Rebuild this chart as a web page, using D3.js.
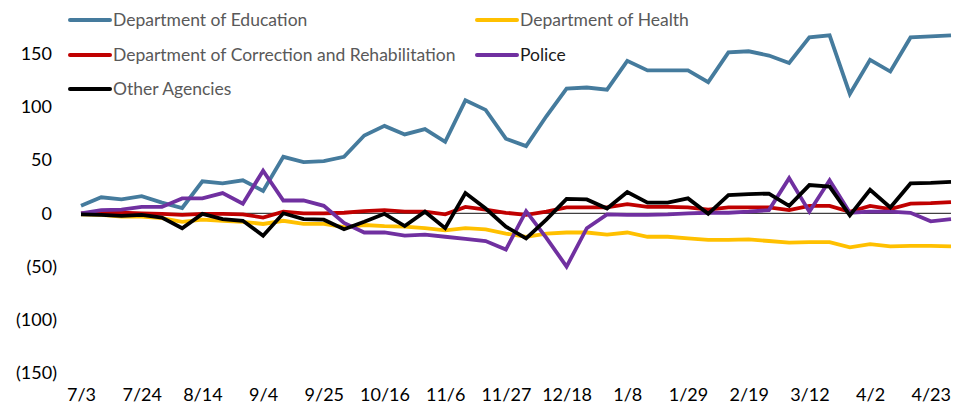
<!DOCTYPE html>
<html>
<head>
<meta charset="utf-8">
<script src="https://cdn.jsdelivr.net/npm/d3@7"></script>
<style>
  body { margin: 0; background: #fff; }
  #chart { width: 953px; height: 411px; }
  text { font-family: Lato, "Open Sans", sans-serif; }
</style>
</head>
<body>
<div id="chart"></div>
<script>
// weekly categories
const weeks = ["7/3","7/10","7/17","7/24","7/31","8/7","8/14","8/21","8/28","9/4","9/11","9/18","9/25",
  "10/2","10/9","10/16","10/23","10/30","11/6","11/13","11/20","11/27","12/4","12/11","12/18","12/25",
  "1/1","1/8","1/15","1/22","1/29","2/5","2/12","2/19","2/26","3/5","3/12","3/19","3/26","4/2","4/9",
  "4/16","4/23","4/30"];
const tickLabels = ["7/3","7/24","8/14","9/4","9/25","10/16","11/6","11/27","12/18","1/8","1/29","2/19","3/12","4/2","4/23"];
const yTicks = [-150, -100, -50, 0, 50, 100, 150];

const education = [7,15,13,16,10,5,30,28,31,21,53,48,49,53,73,82,74,79,67,106,97,70,63,91,117,118,116,143,134,134,
  134,123,151,152,148,141,165,167,112,144,133,165,166,167];
const health = [-1,-1.5,-3,-3,-4.5,-8,-6,-7,-8,-10,-7,-10,-10,-13,-11,-12,-12.5,-14,-16,-14,-15,-19,-22,-19,-18,-18,
  -20,-18,-22,-22,-23.5,-25,-25,-24.5,-26,-27.5,-27,-27,-32,-29,-31,-30.5,-30.5,-31];
const correction = [0,0.5,0.5,0,-0.5,-1.5,-0.5,-0.5,-1,-4,1.5,0,0,0.5,2,3,1.5,1.5,-1,6,3.5,0.5,-1.5,1.5,5.5,5.5,
  5.5,8.5,6,6,5.5,3.5,5.5,5.5,5.5,3,7,7,1.5,7,4,9,9.5,10.5];
const police = [0,3,3.5,6,6,14,14,19,9,40,12,12,7,-9,-18,-18,-21,-20,-22,-24,-26,-34,2,-23,-50,-14,-1,-1.5,-1.5,-1,
  0,0.5,0.5,1.5,3,33,1.5,31,0.5,1.5,1.5,0.5,-7.5,-5.5];
const other = [-1,-1.5,-2.5,-1.5,-4,-14,-0.5,-5.5,-7,-21,0,-5.5,-6,-15,-8,-0.5,-12,1.5,-14,19,4.5,-12.5,-23.5,-6,
  13.5,13,4.5,20,10,10,14,-0.5,17,18,18.5,7,26.5,25,-2,22,5.5,28,28.5,29.5];

const series = [
  { name: "Department of Education", values: education, color: "#457b9d" },
  { name: "Department of Health", values: health, color: "#ffc000" },
  { name: "Department of Correction and Rehabilitation", values: correction, color: "#c00000" },
  { name: "Police", values: police, color: "#7030a0" },
  { name: "Other Agencies", values: other, color: "#000000" }
];

const width = 953, height = 411;
const svg = d3.select("#chart").append("svg")
  .attr("width", width)
  .attr("height", height);

const x = d3.scalePoint()
  .domain(weeks)
  .range([81, 951]);

const y = d3.scaleLinear()
  .domain([-150, 150])
  .range([373.2, 53.4]);

const fmt = d => d < 0 ? `(${-d})` : `${d}`;

// y axis labels (accounting style, parentheses hang right)
const yAxis = svg.append("g")
  .attr("transform", "translate(52,0)")
  .call(d3.axisLeft(y).tickValues(yTicks).tickSize(0).tickPadding(0).tickFormat(fmt));
yAxis.select(".domain").remove();
yAxis.selectAll("text")
  .attr("x", d => d < 0 ? 5 : 0)
  .attr("fill", "#000")
  .style("font-size", "18px");

// x axis labels
const xAxis = svg.append("g")
  .attr("transform", "translate(0,388)")
  .call(d3.axisBottom(x).tickValues(tickLabels).tickSize(0).tickPadding(0));
xAxis.select(".domain").remove();
xAxis.selectAll("text")
  .attr("fill", "#000")
  .style("font-size", "18px");

// zero line
svg.append("line")
  .attr("x1", x(weeks[0])).attr("x2", x(weeks[weeks.length - 1]))
  .attr("y1", y(0)).attr("y2", y(0))
  .attr("stroke", "#404040")
  .attr("stroke-width", 1.2);

const line = d3.line()
  .x((d, i) => x(weeks[i]))
  .y(d => y(d));

series.forEach(s => {
  svg.append("path")
    .datum(s.values)
    .attr("fill", "none")
    .attr("stroke", s.color)
    .attr("stroke-width", 3.8)
    .attr("stroke-linejoin", "miter")
    .attr("d", line);
});

// legend, two columns
const legendPos = [
  [70, 20], [477, 20],
  [70, 55], [477, 55],
  [70, 89]
];
const legend = svg.append("g");
series.forEach((s, i) => {
  const [lx, ly] = legendPos[i];
  legend.append("line")
    .attr("x1", lx).attr("x2", lx + 40)
    .attr("y1", ly).attr("y2", ly)
    .attr("stroke", s.color)
    .attr("stroke-width", 4)
    .attr("stroke-linecap", "round");
  legend.append("text")
    .attr("x", lx + 43)
    .attr("y", ly)
    .attr("dy", "0.35em")
    .attr("fill", s.name === "Police" ? "#1a1a1a" : "#595959")
    .style("font-size", "17.5px")
    .text(s.name);
});
</script>
</body>
</html>
